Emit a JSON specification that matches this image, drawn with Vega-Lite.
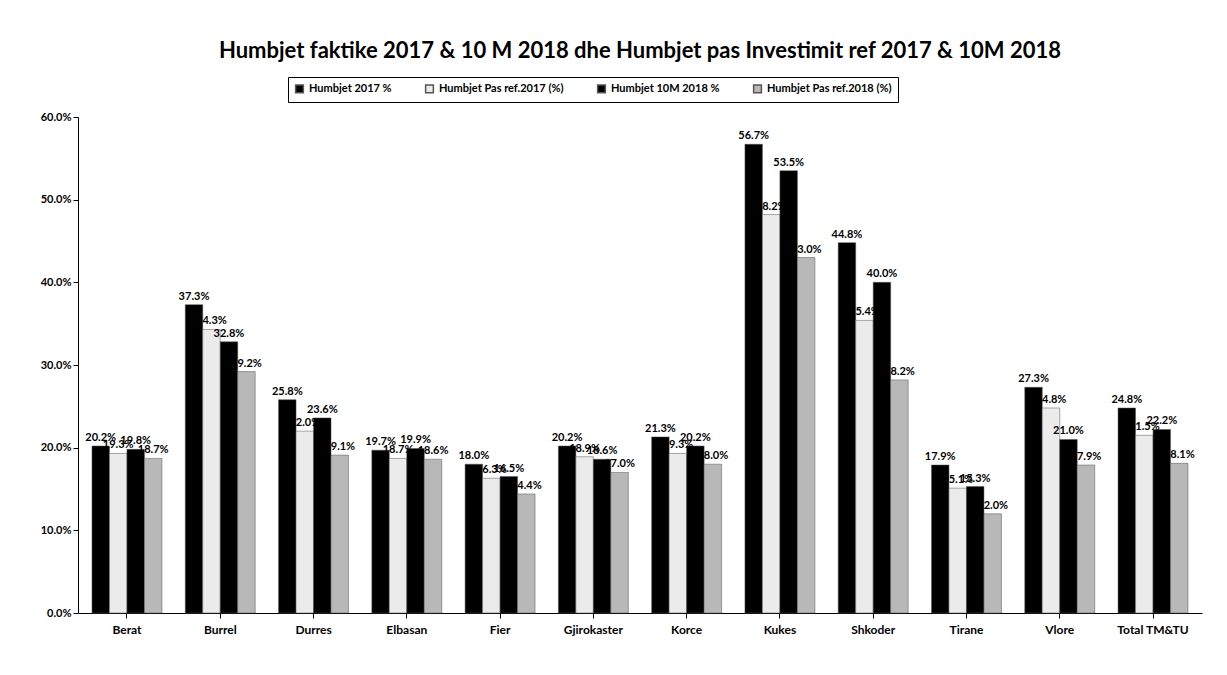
{
  "$schema": "https://vega.github.io/schema/vega-lite/v6.json",
  "width": 1227,
  "height": 675,
  "autosize": {"type": "fit", "contains": "padding"},
  "padding": {"left": 40, "right": 25, "top": 40, "bottom": 40},
  "background": "white",
  "title": {
    "text": "Humbjet faktike 2017 & 10 M 2018 dhe Humbjet pas Investimit ref 2017 & 10M 2018",
    "font": "Lato",
    "fontSize": 22,
    "fontWeight": "bold",
    "color": "black",
    "anchor": "middle",
    "offset": 48
  },
  "data": {
    "values": [
      {"region": "Berat", "series": "Humbjet 2017 %", "value": 0.202},
      {"region": "Berat", "series": "Humbjet Pas ref.2017 (%)", "value": 0.193},
      {"region": "Berat", "series": "Humbjet 10M 2018 %", "value": 0.198},
      {"region": "Berat", "series": "Humbjet Pas ref.2018 (%)", "value": 0.187},
      {"region": "Burrel", "series": "Humbjet 2017 %", "value": 0.373},
      {"region": "Burrel", "series": "Humbjet Pas ref.2017 (%)", "value": 0.343},
      {"region": "Burrel", "series": "Humbjet 10M 2018 %", "value": 0.328},
      {"region": "Burrel", "series": "Humbjet Pas ref.2018 (%)", "value": 0.292},
      {"region": "Durres", "series": "Humbjet 2017 %", "value": 0.258},
      {"region": "Durres", "series": "Humbjet Pas ref.2017 (%)", "value": 0.220},
      {"region": "Durres", "series": "Humbjet 10M 2018 %", "value": 0.236},
      {"region": "Durres", "series": "Humbjet Pas ref.2018 (%)", "value": 0.191},
      {"region": "Elbasan", "series": "Humbjet 2017 %", "value": 0.197},
      {"region": "Elbasan", "series": "Humbjet Pas ref.2017 (%)", "value": 0.187},
      {"region": "Elbasan", "series": "Humbjet 10M 2018 %", "value": 0.199},
      {"region": "Elbasan", "series": "Humbjet Pas ref.2018 (%)", "value": 0.186},
      {"region": "Fier", "series": "Humbjet 2017 %", "value": 0.180},
      {"region": "Fier", "series": "Humbjet Pas ref.2017 (%)", "value": 0.163},
      {"region": "Fier", "series": "Humbjet 10M 2018 %", "value": 0.165},
      {"region": "Fier", "series": "Humbjet Pas ref.2018 (%)", "value": 0.144},
      {"region": "Gjirokaster", "series": "Humbjet 2017 %", "value": 0.202},
      {"region": "Gjirokaster", "series": "Humbjet Pas ref.2017 (%)", "value": 0.189},
      {"region": "Gjirokaster", "series": "Humbjet 10M 2018 %", "value": 0.186},
      {"region": "Gjirokaster", "series": "Humbjet Pas ref.2018 (%)", "value": 0.170},
      {"region": "Korce", "series": "Humbjet 2017 %", "value": 0.213},
      {"region": "Korce", "series": "Humbjet Pas ref.2017 (%)", "value": 0.193},
      {"region": "Korce", "series": "Humbjet 10M 2018 %", "value": 0.202},
      {"region": "Korce", "series": "Humbjet Pas ref.2018 (%)", "value": 0.180},
      {"region": "Kukes", "series": "Humbjet 2017 %", "value": 0.567},
      {"region": "Kukes", "series": "Humbjet Pas ref.2017 (%)", "value": 0.482},
      {"region": "Kukes", "series": "Humbjet 10M 2018 %", "value": 0.535},
      {"region": "Kukes", "series": "Humbjet Pas ref.2018 (%)", "value": 0.430},
      {"region": "Shkoder", "series": "Humbjet 2017 %", "value": 0.448},
      {"region": "Shkoder", "series": "Humbjet Pas ref.2017 (%)", "value": 0.354},
      {"region": "Shkoder", "series": "Humbjet 10M 2018 %", "value": 0.400},
      {"region": "Shkoder", "series": "Humbjet Pas ref.2018 (%)", "value": 0.282},
      {"region": "Tirane", "series": "Humbjet 2017 %", "value": 0.179},
      {"region": "Tirane", "series": "Humbjet Pas ref.2017 (%)", "value": 0.151},
      {"region": "Tirane", "series": "Humbjet 10M 2018 %", "value": 0.153},
      {"region": "Tirane", "series": "Humbjet Pas ref.2018 (%)", "value": 0.120},
      {"region": "Vlore", "series": "Humbjet 2017 %", "value": 0.273},
      {"region": "Vlore", "series": "Humbjet Pas ref.2017 (%)", "value": 0.248},
      {"region": "Vlore", "series": "Humbjet 10M 2018 %", "value": 0.210},
      {"region": "Vlore", "series": "Humbjet Pas ref.2018 (%)", "value": 0.179},
      {"region": "Total TM&TU", "series": "Humbjet 2017 %", "value": 0.248},
      {"region": "Total TM&TU", "series": "Humbjet Pas ref.2017 (%)", "value": 0.215},
      {"region": "Total TM&TU", "series": "Humbjet 10M 2018 %", "value": 0.222},
      {"region": "Total TM&TU", "series": "Humbjet Pas ref.2018 (%)", "value": 0.181}
    ]
  },
  "config": {
    "view": {"stroke": null},
    "font": "Lato"
  },
  "encoding": {
    "x": {
      "field": "region",
      "type": "nominal",
      "sort": null,
      "title": null,
      "scale": {"paddingInner": 0.25, "paddingOuter": 0.15},
      "axis": {"labelAngle": 0, "labelFont": "Lato", "labelFontWeight": "bold", "labelFontSize": 12, "labelColor": "black", "domainColor": "black", "tickColor": "black", "ticks": true, "labelPadding": 6}
    },
    "xOffset": {
      "field": "series",
      "type": "nominal",
      "sort": ["Humbjet 2017 %", "Humbjet Pas ref.2017 (%)", "Humbjet 10M 2018 %", "Humbjet Pas ref.2018 (%)"],
      "scale": {"paddingInner": 0}
    },
    "y": {
      "field": "value",
      "type": "quantitative",
      "title": null,
      "scale": {"domain": [0, 0.6]},
      "axis": {"format": ".1%", "values": [0, 0.1, 0.2, 0.3, 0.4, 0.5, 0.6], "grid": false, "labelFont": "Lato", "labelFontWeight": "bold", "labelFontSize": 11, "labelColor": "black", "domainColor": "black", "tickColor": "black"}
    }
  },
  "layer": [
    {
      "mark": {"type": "bar", "stroke": "#555", "strokeWidth": 0.5},
      "encoding": {
        "color": {
          "field": "series",
          "type": "nominal",
          "sort": ["Humbjet 2017 %", "Humbjet Pas ref.2017 (%)", "Humbjet 10M 2018 %", "Humbjet Pas ref.2018 (%)"],
          "scale": {
            "domain": ["Humbjet 2017 %", "Humbjet Pas ref.2017 (%)", "Humbjet 10M 2018 %", "Humbjet Pas ref.2018 (%)"],
            "range": ["#000000", "#ebebeb", "#000000", "#b8b8b8"]
          },
          "legend": {
            "title": null,
            "orient": "none",
            "legendX": 210,
            "legendY": -40,
            "direction": "horizontal",
            "strokeColor": "black",
            "padding": 6,
            "symbolType": "square",
            "symbolSize": 60,
            "symbolStrokeColor": "#555",
            "labelFont": "Lato",
            "labelFontWeight": "bold",
            "labelFontSize": 11,
            "labelColor": "black",
            "columnPadding": 30
          }
        }
      }
    },
    {
      "mark": {"type": "text", "dy": -8, "font": "Lato", "fontWeight": "bold", "fontSize": 11, "color": "black"},
      "encoding": {
        "text": {"field": "value", "type": "quantitative", "format": ".1%"}
      }
    }
  ]
}
